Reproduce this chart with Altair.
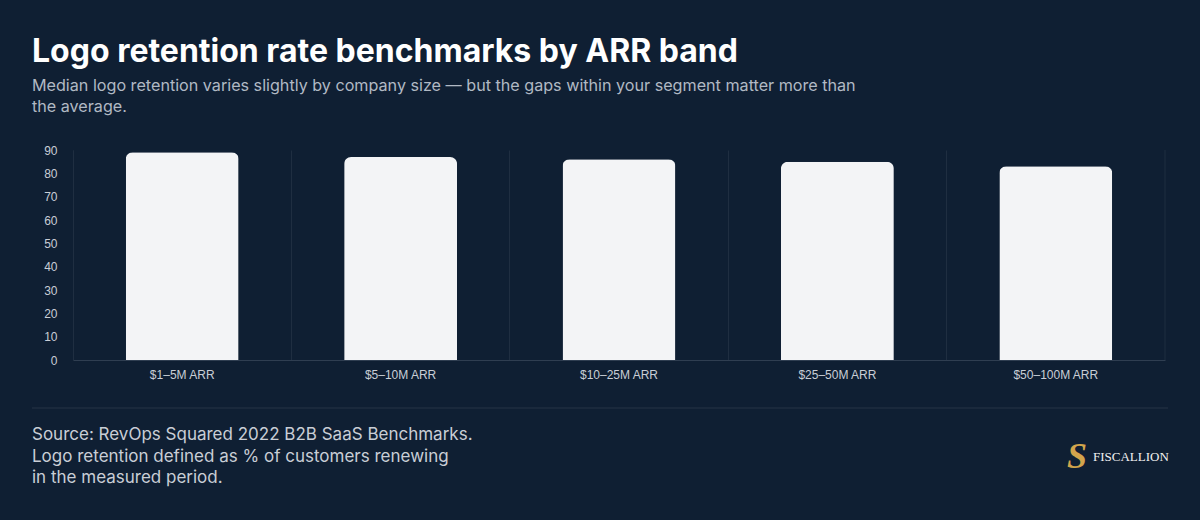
import altair as alt
import pandas as pd

# Median logo retention (%) by ARR band
bands = ["$1–5M ARR", "$5–10M ARR", "$10–25M ARR", "$25–50M ARR", "$50–100M ARR"]
retention = [89, 87, 86, 85, 83]
y_ticks = [0, 10, 20, 30, 40, 50, 60, 70, 80, 90]

title_text = "Logo retention rate benchmarks by ARR band"
subtitle_lines = [
    "Median logo retention varies slightly by company size — but the gaps within your segment matter more than",
    "the average.",
]
source_lines = [
    "Source: RevOps Squared 2022 B2B SaaS Benchmarks.",
    "Logo retention defined as % of customers renewing",
    "in the measured period.",
]
brand = "FISCALLION"

BG = "#0f1f33"
GRID = "#1f2e41"
DOMAIN = "#2f3e51"
BAR = "#f3f4f6"
LABEL = "#c9ced6"
SUB = "#b1b9c4"

W, H = 1092, 210

df = pd.DataFrame({"band": bands, "retention": retention})
one = alt.Data(values=[{"k": 0}])

bars = alt.Chart(df).mark_bar(
    color=BAR,
    width=alt.RelativeBandSize(0.517),
    cornerRadiusTopLeft=7,
    cornerRadiusTopRight=7,
).encode(
    x=alt.X(
        "band:N",
        sort=bands,
        scale=alt.Scale(paddingInner=0, paddingOuter=0),
        axis=alt.Axis(
            title=None,
            labelAngle=0,
            grid=True,
            bandPosition=0,
            gridColor=GRID,
            gridWidth=1,
            domainColor=DOMAIN,
            ticks=False,
            labelPadding=9,
            labelFont="Arial",
            labelFontSize=12,
            labelColor=LABEL,
        ),
    ),
    y=alt.Y(
        "retention:Q",
        scale=alt.Scale(domain=[0, 90], nice=False),
        axis=alt.Axis(
            title=None,
            values=y_ticks,
            grid=False,
            ticks=False,
            domainColor=GRID,
            labelPadding=16,
            labelFont="Arial",
            labelFontSize=12,
            labelColor=LABEL,
        ),
    ),
)

# closing frame line on the right edge of the plot
right_edge = alt.Chart(one).mark_rule(color=GRID, strokeWidth=1).encode(
    x=alt.value(W), y=alt.value(0), y2=alt.value(H)
)

title = alt.Chart(one).mark_text(
    align="left", baseline="alphabetic", font="Inter", fontSize=32,
    fontWeight="bold", color="#ffffff",
).encode(x=alt.value(-41), y=alt.value(-88), text=alt.value(title_text))

subtitle = alt.Chart(one).mark_text(
    align="left", baseline="alphabetic", font="Inter", fontSize=16.15,
    color=SUB, lineHeight=21.6,
).encode(x=alt.value(-41), y=alt.value(-59.5), text=alt.value(subtitle_lines))

separator = alt.Chart(one).mark_rule(color=GRID, strokeWidth=1.5).encode(
    x=alt.value(-41), x2=alt.value(1095), y=alt.value(258)
)

source = alt.Chart(one).mark_text(
    align="left", baseline="alphabetic", font="Inter", fontSize=17,
    color=LABEL, lineHeight=21.7,
).encode(x=alt.value(-41), y=alt.value(290), text=alt.value(source_lines))

logo_icon = alt.Chart(one).mark_text(
    align="center", baseline="middle", font="Liberation Serif", fontSize=36,
    fontWeight="bold", fontStyle="italic", color="#d2a54c",
).encode(x=alt.value(1004), y=alt.value(307), text=alt.value("S"))

logo_text = alt.Chart(one).mark_text(
    align="left", baseline="alphabetic", font="Liberation Serif", fontSize=13,
    color="#f1f1f1",
).encode(x=alt.value(1020), y=alt.value(311), text=alt.value(brand))

chart = alt.layer(
    bars, right_edge, title, subtitle, separator, source, logo_icon, logo_text
).properties(
    width=W,
    height=H,
    background=BG,
    padding={"left": 73, "top": 150, "right": 35, "bottom": 160},
    autosize=alt.AutoSizeParams(type="none"),
).configure_view(stroke=None)

chart.save("out.html", embed_options={"renderer": "svg", "actions": False})
